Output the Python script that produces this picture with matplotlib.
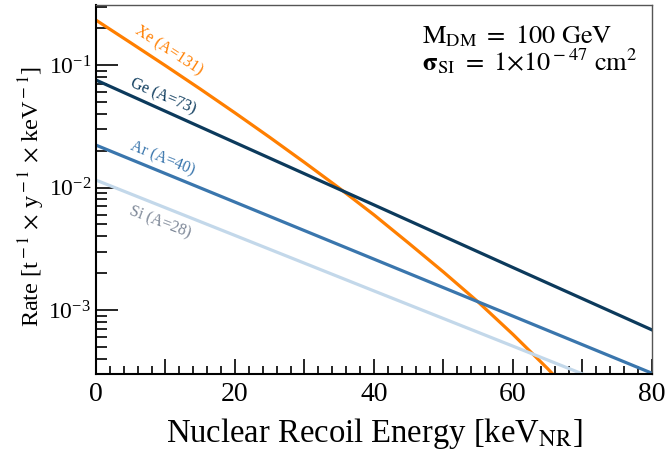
import numpy as np
import matplotlib
matplotlib.use('Agg')
import matplotlib.pyplot as plt
from matplotlib.ticker import MultipleLocator, LogLocator, NullFormatter, FuncFormatter

plt.rcParams['font.family'] = ['Liberation Serif', 'DejaVu Serif']
plt.rcParams['mathtext.fontset'] = 'stix'

# recoil spectra, rate per tonne-year-keV
energy_xe = [0, 5, 10, 15, 20, 25, 30, 35, 40, 45, 50, 55, 60, 65, 66]
rate_xe = [0.233, 0.1521, 0.0989, 0.0638, 0.0407, 0.0257, 0.01603, 0.00989, 0.00598,
           0.00351, 0.00204, 0.00116, 0.000631, 0.000331, 0.000288]

energy_lin = [0, 20, 40, 60, 80]
rate_ge = [0.0755, 0.0233, 0.00721, 0.00222, 0.000687]
rate_ar = [0.0222, 0.0076, 0.0026, 0.00089, 0.000304]
rate_si = [0.0115, 0.00406, 0.00143, 0.000506, 0.000178]

labels = ['Xe (A=131)', 'Ge (A=73)', 'Ar (A=40)', 'Si (A=28)']
colors = ['#ff7f00', '#0c3a5c', '#3a76ad', '#c3d8ea']
label_colors = ['#ff7f00', '#0c3a5c', '#3a76ad', '#7d8797']
label_pos = [(10.5, 0.132), (9.6, 0.0548), (9.5, 0.0171), (9.2, 0.00522)]
label_rot = [-33, -23, -22, -21]

fig = plt.figure(figsize=(6.68, 4.5), dpi=100)
ax = fig.add_axes([0.1437, 0.169, 0.8323, 0.82])

ax.plot(energy_xe, rate_xe, color=colors[0], lw=2.3)
ax.plot(energy_lin, rate_ge, color=colors[1], lw=2.3)
ax.plot(energy_lin, rate_ar, color=colors[2], lw=2.3)
ax.plot(energy_lin, rate_si, color=colors[3], lw=2.3)

for lab, c, (x, y), r in zip(labels, label_colors, label_pos, label_rot):
    ax.text(x, y, lab, color=c, fontsize=11.5, rotation=r,
            ha='center', va='center', rotation_mode='anchor')

ax.set_yscale('log')
ax.set_xlim(0, 80)
ax.set_ylim(3e-4, 0.31)

ax.xaxis.set_major_locator(MultipleLocator(10))
ax.xaxis.set_minor_locator(MultipleLocator(2))
ax.xaxis.set_major_formatter(FuncFormatter(lambda v, p: '%d' % v if int(v) % 20 == 0 else ''))
ax.yaxis.set_major_locator(LogLocator(base=10))
ax.yaxis.set_minor_locator(LogLocator(base=10, subs=np.arange(2, 10)))
ax.yaxis.set_minor_formatter(NullFormatter())

ax.tick_params(which='both', direction='in', top=False, right=False, width=1.2)
ax.tick_params(axis='x', labelsize=20)
ax.tick_params(axis='y', labelsize=17)
ax.tick_params(axis='y', which='major', length=16)
ax.tick_params(axis='y', which='minor', length=8)
ax.tick_params(axis='x', which='major', length=11)
ax.tick_params(axis='x', which='minor', length=6)
ax.tick_params(axis='x', pad=6)

ax.spines['left'].set_linewidth(1.5)
ax.spines['bottom'].set_linewidth(1.5)
for s in ['top', 'right']:
    ax.spines[s].set_color('#555555')
    ax.spines[s].set_linewidth(1.0)

ax.set_xlabel(r'Nuclear Recoil Energy [keV$_{\rm NR}$]', fontsize=23.5, labelpad=6)
ax.set_ylabel(r'Rate [t$^{\rm -1}$ $\times$ y$^{\rm -1}$ $\times$ keV$^{\rm -1}$]', fontsize=17.5)
ax.yaxis.set_label_coords(-0.088, 0.48)

ax.text(0.586, 0.897, r'$\mathrm{M_{DM}}\ =\ 100\ \mathrm{GeV}$', transform=ax.transAxes,
        ha='left', va='baseline', fontsize=19)
ax.text(0.586, 0.822, r'$\mathbf{\sigma}_{\rm SI}\ =\ 1{\times}10^{\rm -47}\ \mathrm{cm}^{2}$', transform=ax.transAxes,
        ha='left', va='baseline', fontsize=19)

fig.savefig('out.png', dpi=100)
